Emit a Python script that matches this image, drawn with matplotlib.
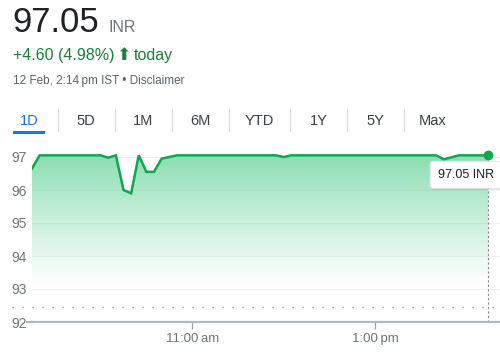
import matplotlib.pyplot as plt
import matplotlib.dates as mdates
import numpy as np
import pandas as pd
from matplotlib.lines import Line2D
from matplotlib.patches import Rectangle
import matplotlib.patheffects as pe

plt.rcParams['font.family'] = ['Liberation Sans', 'DejaVu Sans']

# data (IST, 12 Feb)
times = ["09:15", "09:20", "10:00", "10:05", "10:10", "10:15", "10:20", "10:25",
         "10:30", "10:35", "10:40", "10:50", "11:55", "12:00", "12:05", "13:40",
         "13:45", "13:55", "14:14"]
values = [96.65, 97.05, 97.05, 96.98, 97.05, 96.0, 95.9, 97.05,
          96.55, 96.55, 96.95, 97.05, 97.05, 97.0, 97.05, 97.05,
          96.93, 97.05, 97.05]
prev_close = 92.45
yticks = [92, 93, 94, 95, 96, 97]
xtick_times = ["11:00", "13:00"]
xtick_labels = ["11:00\u2009am", "1:00\u2009pm"]
tabs = ["1D", "5D", "1M", "6M", "YTD", "1Y", "5Y", "Max"]

day = "2024-02-12 "
t = pd.to_datetime([day + s for s in times])
x = mdates.date2num(t)
y = np.array(values)

W, H = 500, 355
fig = plt.figure(figsize=(W / 100, H / 100), dpi=100)


def px(xp, yp):
    return xp / W, 1 - yp / H


line_green = '#0fa650'
gray = '#70757a'
up_green = '#188038'

# header
fig.text(*px(12, 32), "97.05", fontsize=25, color='#202124', va='baseline')
fig.text(*px(109, 32), "INR", fontsize=11.5, color=gray, va='baseline')
fig.text(*px(13, 60), "+4.60 (4.98%)", fontsize=11.5, color=up_green, va='baseline')
fig.text(*px(116, 60), "\u2b06", fontsize=12.5, color=up_green, va='baseline',
         family='DejaVu Sans')
fig.text(*px(134, 60), "today", fontsize=11.5, color=up_green, va='baseline')
fig.text(*px(13, 84), "12 Feb, 2:14\u2009pm IST \u2022 Disclaimer", fontsize=8.5,
         color='#5f6368', va='baseline')

# range tabs
tab_x = [29, 86, 143, 200, 259, 319, 375, 433]
sep_x = [58, 115, 172, 229, 290, 347, 404]
for name, xc in zip(tabs, tab_x):
    fig.text(*px(xc, 121), name, fontsize=10.5, ha='center', va='center',
             color='#1a73e8' if name == "1D" else '#3c4043')
for xs in sep_x:
    fig.add_artist(Line2D([xs / W] * 2, [1 - 109 / H, 1 - 131 / H],
                          color='#dadce0', lw=0.8))
fig.add_artist(Rectangle(px(13, 134), 32 / W, 3 / H, color='#1a73e8', lw=0))

# chart area
ax_left, ax_right, ax_top, ax_bot = 32, 500, 140, 322
ax = fig.add_axes([ax_left / W, 1 - ax_bot / H, (ax_right - ax_left) / W,
                   (ax_bot - ax_top) / H])
x0 = mdates.date2num(pd.Timestamp(day + "09:15"))
x1 = x0 + (468 / 91.5) / 24
ax.set_xlim(x0, x1)
ax.set_ylim(92, 92 + (ax_bot - ax_top) / 33)

for v in yticks[1:]:
    ax.axhline(v, color='#eeeff1', lw=0.8, zorder=0)

# gradient fill under the line
poly = ax.fill_between(x, y, 92, color='none', lw=0)
grad = np.zeros((256, 1, 4))
gy = np.linspace(0, 1, 256)[:, None]
grad[..., 0] = 0.52
grad[..., 1] = 0.86
grad[..., 2] = 0.68
grad[..., 3] = np.clip((gy - 0.22) / 0.75, 0, 1) ** 1.1 * 0.9
img = ax.imshow(grad, extent=[x[0], x[-1], 92, 97.05], origin='lower',
                aspect='auto', zorder=1)
img.set_clip_path(poly.get_paths()[0], transform=ax.transData)

ax.plot(x, y, color=line_green, lw=1.8, zorder=3, solid_joinstyle='miter')
ax.plot(x[-1], y[-1], 'o', color=line_green, ms=6, zorder=4, clip_on=False)

# previous close and crosshair
ax.axhline(prev_close, color='#80868b', lw=0.9, ls=(0, (1, 7)), zorder=2,
           xmin=-20 / 468, clip_on=False)
ax.axvline(x[-1], color='#80868b', lw=0.8, ls=(0, (2, 2)),
           ymax=(97.05 - 92) / (ax.get_ylim()[1] - 92), zorder=2)

# tooltip
ax.annotate("97.05 INR", xy=(x[-1], y[-1]), xytext=(-16, -14),
            textcoords='offset points', ha='center', va='center',
            fontsize=9, color='#202124', zorder=6,
            bbox=dict(boxstyle='round,pad=0.6,rounding_size=0.2', fc='white',
                      ec='#e6e6e6', lw=0.6,
                      path_effects=[pe.withSimplePatchShadow(offset=(0.5, -1),
                                                             shadow_rgbFace='#000000',
                                                             alpha=0.12)]))

for s in ['top', 'right', 'left']:
    ax.spines[s].set_visible(False)
ax.spines['bottom'].set_color('#b5b8bc')
ax.spines['bottom'].set_linewidth(1.6)
fig.add_artist(Line2D([27 / W, 32 / W], [1 - ax_bot / H] * 2, color='#b5b8bc', lw=1.6))

ax.set_yticks(yticks)
ax.set_yticklabels([str(v) for v in yticks])
ax.tick_params(axis='y', length=0, pad=4, labelsize=10, labelcolor=gray)
ax.set_xticks(mdates.date2num(pd.to_datetime([day + s for s in xtick_times])))
ax.set_xticklabels(xtick_labels)
ax.tick_params(axis='x', length=5, width=0.8, color='#9aa0a6', pad=3,
               labelsize=9.5, labelcolor=gray)

fig.savefig('out.png', dpi=100)
